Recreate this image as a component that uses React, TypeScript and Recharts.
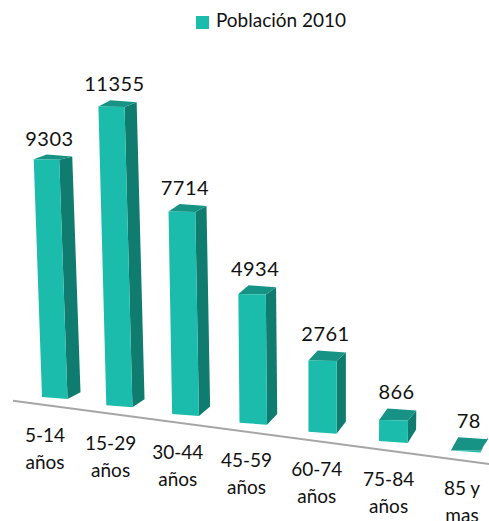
import { BarChart, Bar, XAxis, YAxis, Legend, LabelList, ReferenceLine } from "recharts";

const categorias = ["5-14 años", "15-29 años", "30-44 años", "45-59 años", "60-74 años", "75-84 años", "85 y mas"];
const poblacion = [9303, 11355, 7714, 4934, 2761, 866, 78];
const dados = categorias.map((categoria, i) => ({ categoria, total: poblacion[i] }));

const FONTE = "Lato, 'Noto Sans', sans-serif";
const FRENTE = "#1bbcab";
const LADO = "#107c70";
const TOPO = "#169384";

// the original is a tilted 3D chart: bars get bent through these helpers
const INCLINACAO = 0.13;
const tFrac = (x: number) => (x - 55) / 411;
const projetaX = (x: number) => x - 28 * tFrac(x) * (1 - tFrac(x));
const desceY = (xc: number) => INCLINACAO * (xc - 55);
const escalaAltura = (x: number) => Math.min(1, 0.972 + 0.17 * tFrac(x));

function geometria(x: number, y: number, width: number, height: number) {
    const xc = projetaX(x + width / 2);
    const w = 25.5 + 0.01 * (xc - 55);
    const base = y + height + desceY(xc);
    const xBase = xc - w / 2;
    const h = Math.max(height * escalaAltura(x + width / 2), 2);
    const dxTopo = 0.00013 * (308 - xBase) * h;
    const xTopo = xBase - dxTopo;
    const yTopo = base - h;
    const prof = 13 - (xBase - 42) * 0.014;
    const dy = 4 + 0.02 * xBase;
    return { xc, w, base, xBase, xTopo, yTopo, prof, dy };
}

function Barra3D(props: any) {
    const { x, y, width, height } = props;
    const { w, base, xBase, xTopo, yTopo, prof, dy } = geometria(x, y, width, height);
    const frente = [
        [xTopo, yTopo],
        [xTopo + w, yTopo + 0.5],
        [xBase + w, base],
        [xBase, base - 2],
    ];
    const lado = [
        [xTopo + w, yTopo + 0.5],
        [xTopo + w + prof, yTopo - dy + 2],
        [xBase + w + prof, base - dy - 2],
        [xBase + w, base],
    ];
    const topo = [
        [xTopo, yTopo],
        [xTopo + prof, yTopo - dy],
        [xTopo + w + prof, yTopo - dy + 2],
        [xTopo + w, yTopo + 0.5],
    ];
    const pts = (p: number[][]) => p.map((q) => q.join(",")).join(" ");
    return (
        <g style={{ filter: "blur(0.4px)" }}>
            <polygon points={pts(lado)} fill={LADO} />
            <polygon points={pts(topo)} fill={TOPO} />
            <polygon points={pts(frente)} fill={FRENTE} />
        </g>
    );
}

function Rotulo(props: any) {
    const { x, y, width, height, value } = props;
    const { w, xTopo, yTopo, dy } = geometria(x, y, width, height);
    return (
        <text
            x={xTopo + w / 2 + 3}
            y={yTopo - dy - 16}
            dy="0.35em"
            textAnchor="middle"
            fontSize={20}
            fontFamily={FONTE}
            fill="#111111"
            letterSpacing={0.5}
        >
            {value}
        </text>
    );
}

function TickCategoria(props: any) {
    const { x, payload } = props;
    const xc = projetaX(x);
    const base = 399 + desceY(xc);
    const texto: string = payload.value;
    const corte = texto.lastIndexOf(" ");
    const xTexto = xc - 10 + 6 * tFrac(x);
    return (
        <text textAnchor="middle" fontSize={19} fontFamily={FONTE} fill="#111111">
            <tspan x={xTexto} y={base + 36} dy="0.35em">
                {texto.slice(0, corte)}
            </tspan>
            <tspan x={xTexto} y={base + 63} dy="0.35em">
                {texto.slice(corte + 1)}
            </tspan>
        </text>
    );
}

function LinhaBase() {
    const y = (x: number) => 400.7 + 0.133 * (x - 13);
    return <line x1={13} y1={y(13)} x2={489} y2={y(489)} stroke="#a6a6a6" strokeWidth={2} />;
}

export default function App() {
    return (
        <div style={{ position: "absolute", left: 0, top: 0, width: 489, height: 521, overflow: "hidden" }}>
            <BarChart
                width={510}
                height={521}
                data={dados}
                margin={{ top: 81, right: 9.75, bottom: 0, left: 20.75 }}
            >
                <XAxis
                    dataKey="categoria"
                    height={122}
                    axisLine={false}
                    tickLine={false}
                    interval={0}
                    tick={<TickCategoria />}
                />
                <YAxis hide domain={[0, 12000]} />
                <ReferenceLine y={0} shape={<LinhaBase />} />
                <Legend
                    verticalAlign="middle"
                    align="center"
                    iconType="square"
                    iconSize={13}
                    wrapperStyle={{ top: 8, left: 191, width: 170, fontFamily: FONTE, fontSize: 19 }}
                    formatter={(valor: string) => <span style={{ color: "#111111", marginLeft: 3 }}>{valor}</span>}
                />
                <Bar
                    dataKey="total"
                    name="Población 2010"
                    fill={FRENTE}
                    barSize={26}
                    shape={<Barra3D />}
                    isAnimationActive={false}
                >
                    <LabelList dataKey="total" content={<Rotulo />} />
                </Bar>
            </BarChart>
        </div>
    );
}
